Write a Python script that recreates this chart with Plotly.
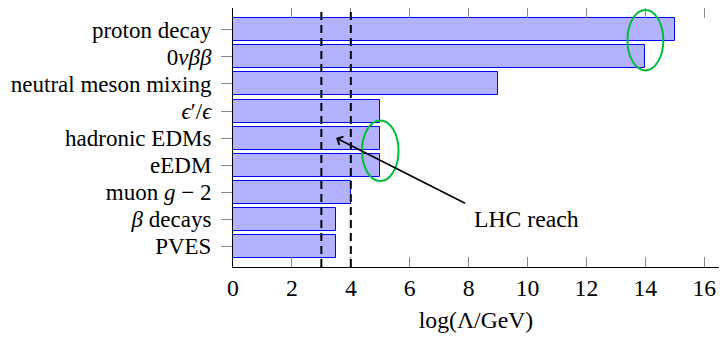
import plotly.graph_objects as go

# ---- data (top to bottom as in the reference) ----
categories = ["proton decay", "0νββ", "neutral meson mixing", "ϵ′/ϵ",
              "hadronic EDMs", "eEDM", "muon g − 2", "β decays", "PVES"]
tick_labels = ["proton decay", "0<i>νββ</i>", "neutral meson mixing", "<i>ϵ</i>′/<i>ϵ</i>",
               "hadronic EDMs", "eEDM", "muon <i>g</i> − 2", "<i>β</i> decays", "PVES"]
values = [15, 14, 9, 5, 5, 5, 4, 3.5, 3.5]
lhc_reach = [3, 4]
x_ticks = [0, 2, 4, 6, 8, 10, 12, 14, 16]
title_text = "Testing new physics with precision measurements"

n = len(categories)
ypos = [n - 1 - i for i in range(n)]  # proton decay on top

FONT = "Liberation Serif, Times New Roman, Times, serif"
FS = 23.7

fig = go.Figure()
fig.add_trace(go.Bar(
    x=values, y=ypos, orientation="h", width=0.85,
    marker=dict(color="rgb(178,178,255)", line=dict(color="blue", width=1)),
    hoverinfo="x+y", showlegend=False,
))

# dashed LHC reach lines
for xv in lhc_reach:
    fig.add_shape(type="line", xref="x", yref="paper", x0=xv, x1=xv, y0=0, y1=1,
                  line=dict(color="black", width=2, dash="8px,5px"), layer="above")

# green ellipses
green = "rgb(0,190,60)"
idx_pd = categories.index("proton decay")
idx_0n = categories.index("0νββ")
cx1 = values[idx_0n]
cy1 = (ypos[idx_pd] + ypos[idx_0n]) / 2 + 0.12
fig.add_shape(type="circle", xref="x", yref="y", x0=cx1 - 0.61, x1=cx1 + 0.61,
              y0=cy1 - 1.12, y1=cy1 + 1.12, line=dict(color=green, width=2))
idx_h = categories.index("hadronic EDMs")
idx_e = categories.index("eEDM")
cx2 = values[idx_h]
cy2 = (ypos[idx_h] + ypos[idx_e]) / 2 + 0.03
fig.add_shape(type="circle", xref="x", yref="y", x0=cx2 - 0.62, x1=cx2 + 0.62,
              y0=cy2 - 1.12, y1=cy2 + 1.12, line=dict(color=green, width=2))

# LHC reach arrow + label
fig.add_annotation(x=3.5, y=4.0, ax=7.93, ay=1.56, xref="x", yref="y", axref="x", ayref="y",
                   text="", showarrow=True, arrowhead=4, arrowsize=1.1, arrowwidth=1.6,
                   arrowcolor="black")
fig.add_annotation(x=9.97, y=1.0, xref="x", yref="y", text="LHC reach", showarrow=False,
                   font=dict(family=FONT, size=FS, color="black"))

# title sits above the visible area (clipped, as in the reference)
fig.add_annotation(x=0.5, y=1, xref="paper", yref="paper", yshift=4, text=title_text,
                   showarrow=False, yanchor="bottom",
                   font=dict(family=FONT, size=FS, color="rgb(40,40,200)"))

# the page body adds an 8px offset; margins below compensate for it
fig.update_layout(
    width=719, height=329,
    margin=dict(l=225, r=8, t=0, b=70, autoexpand=False),
    paper_bgcolor="white", plot_bgcolor="white",
    font=dict(family=FONT, size=FS, color="black"),
    bargap=0,
)
fig.update_xaxes(
    range=[0, 16.5], tickvals=x_ticks, ticks="inside", ticklen=10, tickcolor="#888",
    tickwidth=1, mirror="allticks", showline=True, linecolor="black", linewidth=1,
    showgrid=False, zeroline=False, automargin=False,
    title=dict(text="log(Λ/GeV)", standoff=10, font=dict(family=FONT, size=FS)),
)
fig.update_yaxes(
    range=[-0.77, n - 1 + 0.81], tickmode="array", tickvals=ypos, ticktext=tick_labels,
    ticks="outside", ticklen=11, tickcolor="#888", tickwidth=1, mirror="allticks",
    showline=True, linecolor="black", linewidth=1, showgrid=False, zeroline=False,
    ticklabelstandoff=5, automargin=False, tickfont=dict(family=FONT, size=23),
)

fig.write_html("out.html")
